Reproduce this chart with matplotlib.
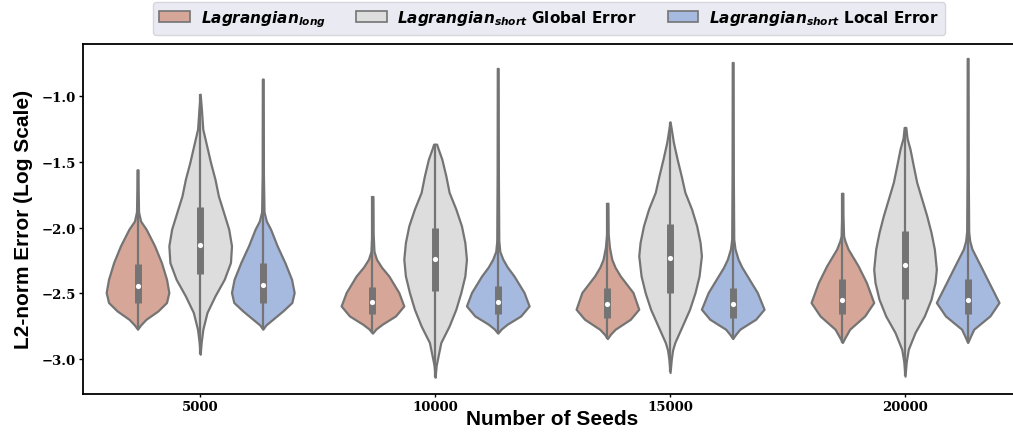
import matplotlib
matplotlib.use('Agg')
import matplotlib.pyplot as plt
from matplotlib.patches import Patch
import numpy as np

#----data----
seeds = ['5000', '10000', '15000', '20000']
labels = [r'$\mathbfit{Lagrangian}_{\mathbfit{long}}$',
          r'$\mathbfit{Lagrangian}_{\mathbfit{short}}$ Global Error',
          r'$\mathbfit{Lagrangian}_{\mathbfit{short}}$ Local Error']
colors = ['#d6a798', '#dcdddc', '#a6b9df']

# violin outlines: values (log10 error) from bottom tip to top tip, and the
# half width (pixels, normalised per violin later)
long_y = [
    [-2.772, -2.74, -2.696, -2.633, -2.569, -2.493, -2.392, -2.265, -2.138, -2.011, -1.95, -1.88, -1.70, -1.56],
    [-2.802, -2.77, -2.734, -2.671, -2.595, -2.493, -2.367, -2.30, -2.24, -2.18, -2.05, -1.763],
    [-2.843, -2.81, -2.772, -2.696, -2.62, -2.493, -2.367, -2.30, -2.24, -2.15, -2.05, -1.814],
    [-2.873, -2.83, -2.772, -2.671, -2.569, -2.417, -2.29, -2.163, -2.10, -2.062, -1.90, -1.738],
]
long_w = [
    [0, 3, 8.4, 20, 28.4, 30.7, 28.4, 23.4, 16.7, 8.4, 3, 1, 0.6, 0.5],
    [0, 3.5, 9.7, 23, 31.3, 26.3, 16.3, 9, 4, 1.5, 0.7, 0.5],
    [0, 3, 7.7, 22.7, 31, 25.3, 12.7, 7.5, 4.3, 2, 0.8, 0.5],
    [0, 3, 7.3, 22.3, 31.3, 24, 15.7, 5.7, 2.5, 1.2, 0.6, 0.5],
]
glob_y = [
    [-2.962, -2.87, -2.772, -2.645, -2.519, -2.392, -2.265, -2.138, -2.011, -1.884, -1.758, -1.631, -1.504, -1.378, -1.25, -1.10, -0.985],
    [-3.137, -3.05, -3.0, -2.873, -2.747, -2.62, -2.493, -2.367, -2.24, -2.113, -1.986, -1.859, -1.732, -1.606, -1.479, -1.40, -1.365],
    [-3.101, -3.0, -2.93, -2.873, -2.747, -2.62, -2.493, -2.367, -2.214, -2.113, -1.986, -1.859, -1.732, -1.606, -1.479, -1.352, -1.25, -1.195],
    [-3.129, -3.02, -2.924, -2.797, -2.671, -2.544, -2.417, -2.316, -2.163, -2.037, -1.91, -1.783, -1.656, -1.53, -1.403, -1.32, -1.238],
]
glob_w = [
    [0, 1, 2.6, 6.6, 14.3, 23.3, 29.3, 30.3, 27.6, 22.6, 17.6, 14.3, 10, 6.3, 2.5, 1.2, 0],
    [0, 1, 2.3, 5.7, 14, 20.7, 25.7, 29.7, 31.3, 29.7, 26.3, 20.7, 14, 10.7, 6.7, 3, 1.5],
    [0, 1.2, 2.5, 4.7, 12, 19.3, 24.7, 28.7, 31, 29.7, 26.3, 21.3, 14.7, 11, 7, 3.3, 1.2, 0],
    [0, 1.2, 3.3, 10, 19.3, 26, 30, 31.3, 29.3, 26, 21.7, 16.7, 11.7, 8.3, 5, 2, 0.8],
]
loc_y = [
    [-2.772, -2.74, -2.696, -2.633, -2.569, -2.493, -2.392, -2.265, -2.138, -2.011, -1.95, -1.88, -1.60, -1.20, -0.87],
    [-2.802, -2.77, -2.734, -2.671, -2.595, -2.493, -2.367, -2.30, -2.24, -2.18, -2.10, -1.60, -0.789],
    [-2.843, -2.81, -2.772, -2.696, -2.62, -2.493, -2.367, -2.30, -2.24, -2.16, -2.087, -1.60, -0.744],
    [-2.873, -2.83, -2.772, -2.671, -2.569, -2.417, -2.29, -2.163, -2.10, -2.03, -1.60, -0.713],
]
loc_w = [
    [0, 3, 10, 20, 29, 31.3, 28.7, 22, 14.3, 7.7, 3.5, 1.2, 0.6, 0.5, 0.4],
    [0, 3.5, 9.3, 22.7, 31, 26, 16, 9.5, 5, 2, 1, 0.6, 0.4],
    [0, 3, 7, 22.7, 31, 24.3, 14.3, 9, 5.3, 2.2, 1, 0.6, 0.4],
    [0, 2.5, 6, 22, 31, 21, 12.7, 4.3, 2, 1, 0.6, 0.4],
]

# inner box: quartiles and median
long_q1 = [-2.569, -2.658, -2.683, -2.658]
long_med = [-2.442, -2.564, -2.582, -2.549]
long_q3 = [-2.278, -2.45, -2.455, -2.392]
glob_q1 = [-2.354, -2.481, -2.493, -2.544]
glob_med = [-2.133, -2.24, -2.232, -2.285]
glob_q3 = [-1.846, -1.999, -1.973, -2.024]
loc_q1 = [-2.574, -2.658, -2.683, -2.658]
loc_med = [-2.437, -2.564, -2.582, -2.549]
loc_q3 = [-2.265, -2.443, -2.455, -2.392]

all_y = [long_y, glob_y, loc_y]
all_w = [long_w, glob_w, loc_w]
all_q1 = [long_q1, glob_q1, loc_q1]
all_med = [long_med, glob_med, loc_med]
all_q3 = [long_q3, glob_q3, loc_q3]

#----plot----
fig = plt.figure(figsize=(10.13, 4.35), dpi=100)
ax = fig.add_axes([82.7/1013, 39.8/435, 939.8/1013, 350.7/435])

gray = '#747474'
width = 0.8 / 3
for h in range(3):
    offset = (h - 1) * width
    for g in range(len(seeds)):
        yy = np.array(all_y[h][g])
        ww = np.array(all_w[h][g])
        ww = ww / ww.max() * width / 2   # same width for every violin
        c = g + offset
        ax.fill_betweenx(yy, c - ww, c + ww, facecolor=colors[h],
                         edgecolor=gray, linewidth=1.6, zorder=2)
        ax.vlines(c, yy[0], yy[-1], color=gray, linewidth=1.6, zorder=3)
        ax.vlines(c, all_q1[h][g], all_q3[h][g], color=gray, linewidth=5,
                  zorder=3)
        ax.scatter([c], [all_med[h][g]], s=14, color='white', zorder=4,
                   linewidths=0)

ax.set_xlim(-0.5, len(seeds) - 0.5)
ax.set_ylim(-3.266, -0.6)
ax.set_xticks(range(len(seeds)))
ax.set_xticklabels(seeds)
ax.set_yticks([-3.0, -2.5, -2.0, -1.5, -1.0])
for lab in ax.get_xticklabels() + ax.get_yticklabels():
    lab.set_family('DejaVu Serif')
    lab.set_weight('bold')
    lab.set_fontsize(9.5)
ax.tick_params(axis='x', length=2.5, pad=1.5, width=1)
ax.tick_params(axis='y', length=3, pad=2, width=1)
for sp in ax.spines.values():
    sp.set_linewidth(1.3)
    sp.set_color('black')

ax.set_xlabel('Number of Seeds', fontsize=15, fontweight='bold',
              family='Liberation Sans')
ax.set_ylabel('L2-norm Error (Log Scale)', fontsize=15, fontweight='bold',
              family='Liberation Sans')
ax.yaxis.set_label_coords(-0.053, 0.5)
ax.xaxis.set_label_coords(0.5, -0.043)

handles = [Patch(facecolor=colors[i], edgecolor=gray, linewidth=1.2)
           for i in range(3)]
leg = ax.legend(handles, labels, loc='lower center', ncol=3,
                bbox_to_anchor=(549/1013, 399/435), bbox_transform=fig.transFigure,
                borderaxespad=0, frameon=True, fancybox=True,
                prop={'weight': 'bold', 'size': 11}, columnspacing=2.0,
                handletextpad=0.7)
leg.get_frame().set_facecolor('#eaeaf2')
leg.get_frame().set_edgecolor('#d6d6de')
leg.get_frame().set_alpha(1)

fig.savefig('out.png', dpi=100)
